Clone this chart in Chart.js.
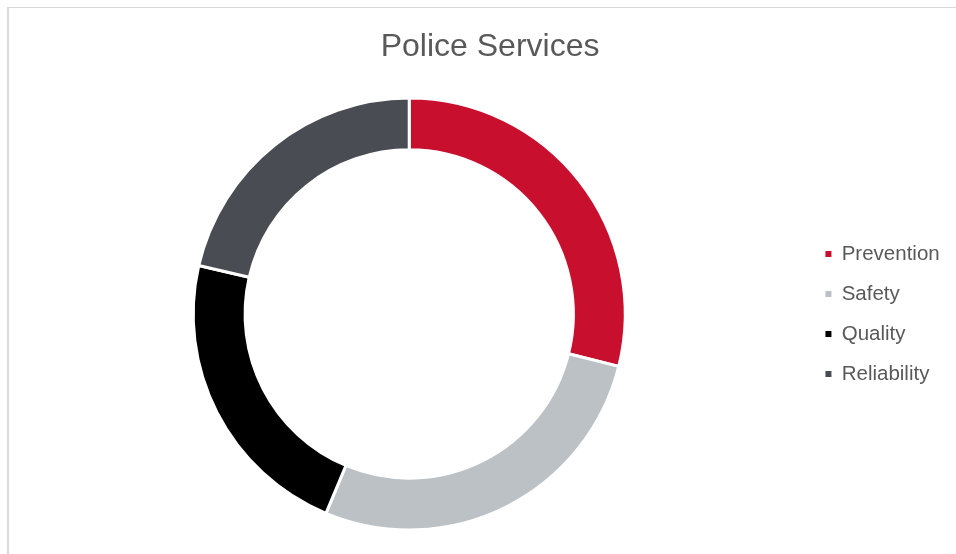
<!DOCTYPE html>
<html>
<head>
<meta charset="utf-8">
<script src="https://cdn.jsdelivr.net/npm/chart.js@4"></script>
<style>
  html, body { margin: 0; padding: 0; background: #fff; overflow: hidden; }
  #frame { position: absolute; left: 7px; top: 7px; width: 960px; height: 560px;
           border-left: 2px solid #d9d9d9; border-top: 1.5px solid #d9d9d9; }
  #doughnut-chart { position: absolute; left: 0; top: 0; }
</style>
</head>
<body>
<div id="frame"></div>
<canvas id="doughnut-chart" width="962" height="554"></canvas>
<script>
var labels = ["Prevention", "Safety", "Quality", "Reliability"];
var values = [28.9, 27.4, 22.3, 21.4];
var colors = ["#c8102e", "#bcc1c6", "#000000", "#4a4c54"];

// the title sits a bit right of the chart's centre in the original
var shiftTitle = {
  id: 'shiftTitle',
  afterLayout: function(chart) {
    if (chart.titleBlock) chart.titleBlock.left += 18;
  }
};

new Chart(document.getElementById("doughnut-chart"), {
    type: 'doughnut',
    data: {
      labels: labels,
      datasets: [{
        data: values,
        backgroundColor: colors,
        borderColor: "#ffffff",
        borderWidth: 3
      }]
    },
    options: {
      responsive: false,
      animation: false,
      cutout: '76%',
      layout: { padding: { left: 12.5, right: 12.3, top: 0, bottom: 22.5 } },
      plugins: {
        tooltip: { enabled: false },
        title: {
          display: true,
          text: 'Police Services',
          color: '#595959',
          font: { family: 'Arial, "Liberation Sans"', size: 32, weight: 'normal' },
          padding: { top: 27.8, bottom: 30.3 }
        },
        legend: {
          position: 'right',
          fullSize: false,
          labels: {
            color: '#595959',
            font: { family: 'Arial, "Liberation Sans"', size: 20.5 },
            boxWidth: 6,
            boxHeight: 6,
            padding: 19.5,
            generateLabels: function(chart) {
              var items = Chart.overrides.doughnut.plugins.legend.labels.generateLabels(chart);
              items.forEach(function(it) { it.lineWidth = 0; it.strokeStyle = it.fillStyle; });
              return items;
            }
          }
        }
      }
    },
    plugins: [shiftTitle]
});
</script>
</body>
</html>
